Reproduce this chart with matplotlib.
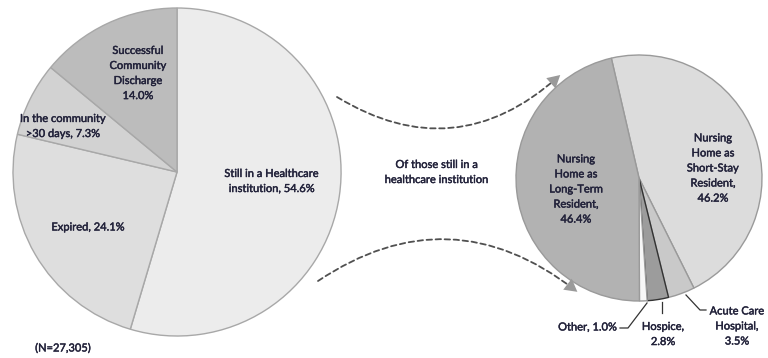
import numpy as np
import matplotlib
matplotlib.use('Agg')
import matplotlib.pyplot as plt
import matplotlib.patheffects as pe
from matplotlib.patches import FancyArrowPatch

plt.rcParams['font.family'] = ['Lato', 'DejaVu Sans']

# outcomes of all patients (clockwise from 12 o'clock)
outcome_labels = ['Still in a Healthcare\ninstitution, 54.6%', 'Expired, 24.1%',
                  'In the community\n>30 days, 7.3%',
                  'Successful\nCommunity\nDischarge\n14.0%']
outcome_values = [54.6, 24.1, 7.3, 14.0]
outcome_colors = ['#ececec', '#dedede', '#d2d2d2', '#bcbcbc']

# breakdown of those still in a healthcare institution
inst_labels = ['Nursing\nHome as\nShort-Stay\nResident,\n46.2%',
               'Acute Care\nHospital,\n3.5%', 'Hospice,\n2.8%', 'Other, 1.0%',
               'Nursing\nHome as\nLong-Term\nResident,\n46.4%']
inst_values = [46.2, 3.5, 2.8, 1.0, 46.4]
inst_colors = ['#dcdcdc', '#c9c9c9', '#9c9c9c', '#f7f7f7', '#b2b2b2']
inst_edges = ['#9a9a9a', '#9a9a9a', '#333333', '#9a9a9a', '#9a9a9a']

W, H = 768, 358
txt = '#22223a'


def Y(py):
    # pixel row -> data y
    return H - py


fig = plt.figure(figsize=(7.68, 3.58), dpi=100)
ax = fig.add_axes([0, 0, 1, 1])

# left pie
wl, _ = ax.pie(outcome_values, center=(177, Y(172)), radius=164, startangle=90,
               counterclock=False, explode=[0.08, 0, 0, 0], colors=outcome_colors,
               wedgeprops=dict(edgecolor='#a8a8a8', linewidth=1))

# right pie
wr, _ = ax.pie(inst_values, center=(639, Y(178)), radius=123, startangle=103,
               counterclock=False, colors=inst_colors,
               wedgeprops=dict(linewidth=1))
for w, ec in zip(wr, inst_edges):
    w.set_edgecolor(ec)

fs = 8
heavy = [pe.withStroke(linewidth=0.3, foreground=txt)]
kw = dict(ha='center', va='center', fontsize=fs, color=txt, linespacing=1.45,
          path_effects=heavy)

# left labels
ax.text(272, Y(181), outcome_labels[0], **kw)
ax.text(88, Y(227), outcome_labels[1], **kw)
ax.text(63, Y(126), outcome_labels[2], **kw)
ax.text(138, Y(73), outcome_labels[3], **kw)
ax.text(63, Y(348), '(N=27,305)', **kw)

# right labels
ax.text(713, Y(168), inst_labels[0], **kw)
ax.text(576, Y(189), inst_labels[4], **kw)
ax.text(737, Y(326), inst_labels[1], **kw)
ax.text(663, Y(334), inst_labels[2], **kw)
ax.text(617, Y(327), inst_labels[3], ha='right', va='center', fontsize=fs,
        color=txt, path_effects=heavy)
ax.text(437, Y(172), 'Of those still in a\nhealthcare institution', **kw)

# leader lines
lc = '#333333'
ax.plot([686, 700, 706], [Y(295), Y(310), Y(310)], color=lc, lw=0.9)
ax.plot([662, 662], [Y(302), Y(313)], color=lc, lw=0.9)
ax.plot([647, 628, 620], [Y(303), Y(328), Y(328)], color=lc, lw=0.9)

# dashed connectors with solid grey heads
for p0, p1, rad in [((337, Y(97)), (558, Y(77)), 0.37),
                    ((318, Y(281)), (575, Y(290)), -0.36)]:
    ax.add_patch(FancyArrowPatch(p0, p1, connectionstyle='arc3,rad=%s' % rad,
                                 arrowstyle='-', linestyle=(0, (3, 2)),
                                 linewidth=1.3, color='#505050',
                                 shrinkA=0, shrinkB=0))
    x0, y0 = p0
    x1, y1 = p1
    cx = (x0 + x1) / 2 + rad * (y1 - y0)
    cy = (y0 + y1) / 2 - rad * (x1 - x0)
    d = np.array([x1 - cx, y1 - cy])
    d = d / np.hypot(*d)
    tail = (x1 - 9 * d[0], y1 - 9 * d[1])
    head_end = (x1 + 3 * d[0], y1 + 3 * d[1])
    ax.add_patch(FancyArrowPatch(tail, head_end,
                                 arrowstyle='-|>,head_length=9,head_width=5',
                                 linewidth=0, color='#9a9a9a',
                                 shrinkA=0, shrinkB=0))

ax.set_xlim(0, W)
ax.set_ylim(0, H)
ax.set_aspect('equal')
ax.axis('off')

fig.savefig('out.png', dpi=100)
